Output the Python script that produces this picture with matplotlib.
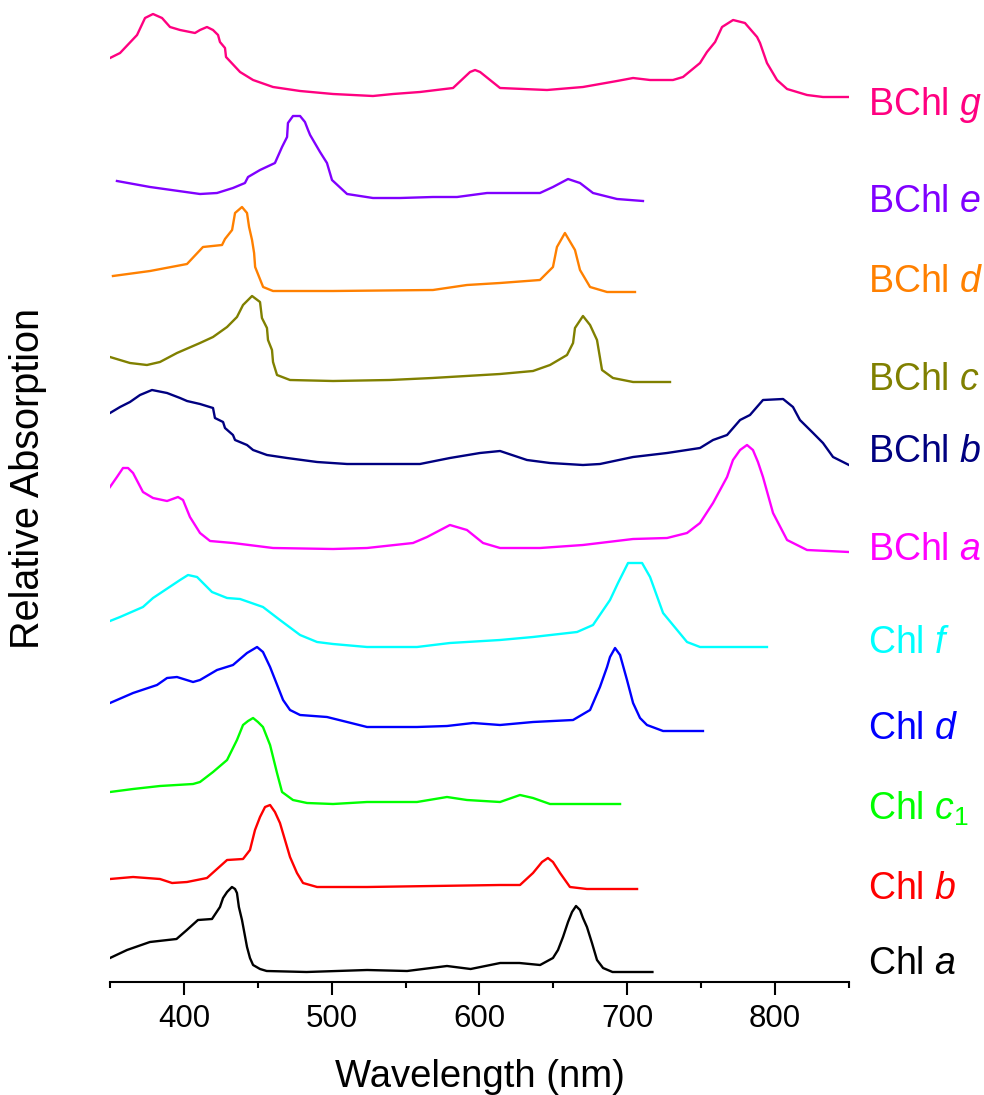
import matplotlib
matplotlib.use("Agg")
import matplotlib.pyplot as plt
from matplotlib.ticker import MultipleLocator

plt.rcParams['font.family'] = ['Liberation Sans', 'DejaVu Sans']
plt.rcParams['mathtext.fontset'] = 'custom'
plt.rcParams['mathtext.rm'] = 'Liberation Sans'
plt.rcParams['mathtext.it'] = 'Liberation Sans:italic'

# spectra: wavelength (nm) and relative absorption
chla_nm = [350, 361.5, 377, 395, 402, 409.5, 419, 424.4, 426.5, 429.2, 432.5, 434.6, 435.9, 437.2,
           439.3, 442.7, 444.7, 446.8, 451.5, 456, 483, 524, 551, 578, 594, 614, 627, 641, 649.7,
           653.1, 656.5, 659.9, 662.6, 665.3, 668, 670, 672.7, 676.1, 679.5, 683.6, 690, 717]
chla_abs = [0.14, 0.22, 0.30, 0.33, 0.42, 0.52, 0.53, 0.65, 0.74, 0.80, 0.85, 0.83, 0.79, 0.65,
            0.52, 0.25, 0.14, 0.07, 0.03, 0.01, 0, 0.02, 0.01, 0.06, 0.03, 0.09, 0.09, 0.07, 0.14,
            0.22, 0.35, 0.50, 0.60, 0.66, 0.62, 0.54, 0.45, 0.29, 0.12, 0.04, 0, 0]

chlb_nm = [350, 365.6, 383.8, 392, 402.1, 415.6, 429.2, 440, 444.7, 448.1, 451.5, 454.9, 458.3,
           461.6, 465, 468.4, 471.8, 476.5, 480.6, 490.1, 523.9, 568.5, 613.9, 627.4, 636.2,
           642.3, 646.3, 649.7, 654.5, 661.2, 672.7, 706.6]
chlb_abs = [0.10, 0.12, 0.10, 0.06, 0.07, 0.11, 0.29, 0.30, 0.39, 0.59, 0.72, 0.82, 0.84,
            0.77, 0.66, 0.49, 0.32, 0.16, 0.06, 0.02, 0.02, 0.03, 0.04, 0.04, 0.16,
            0.27, 0.31, 0.27, 0.16, 0.02, 0, 0]

chlc1_nm = [350, 365.6, 383.8, 406.2, 410.9, 419.7, 429.2, 435.9, 440, 443.4, 446.8, 450.1, 453.5,
            458.3, 463, 466.4, 473.8, 483.3, 500.9, 523.9, 557.7, 578, 591.5, 613.9, 627.4, 636.2,
            647.7, 695.1]
chlc1_abs = [0.12, 0.15, 0.18, 0.20, 0.22, 0.32, 0.44, 0.64, 0.79, 0.83, 0.86, 0.82, 0.77,
             0.59, 0.31, 0.12, 0.04, 0.01, 0, 0.02, 0.02, 0.07, 0.04, 0.02, 0.09, 0.06,
             0, 0]

chld_nm = [350, 365.6, 381.8, 388.6, 395.3, 406.2, 410.9, 422.4, 433.2, 442.7, 449.5, 453.5, 458.3,
           467.1, 471.8, 478.6, 496.8, 510.4, 523.9, 557.7, 578, 595.6, 613.9, 636.2, 663.3, 674.8,
           681.5, 686.3, 688.3, 691.7, 695.1, 699.8, 703.9, 708.6, 713.3, 724.2, 751.2]
chld_abs = [0.28, 0.38, 0.46, 0.53, 0.54, 0.49, 0.51, 0.61, 0.66, 0.78, 0.84, 0.79, 0.64,
            0.31, 0.21, 0.16, 0.14, 0.09, 0.04, 0.04, 0.05, 0.08, 0.06, 0.09, 0.11, 0.21,
            0.44, 0.64, 0.74, 0.83, 0.76, 0.51, 0.28, 0.13, 0.06, 0, 0]

chlf_nm = [350, 356.8, 372.3, 379.1, 397.4, 402.8, 408.9, 419, 429.2, 438, 453.5, 465, 478.6, 490.1,
           500.9, 523.9, 557.7, 580, 613.9, 636.2, 666, 676.8, 688.3, 693.7, 700.5, 710, 715.4,
           724.2, 730.9, 740.4, 749.2, 794.5]
chlf_abs = [0.26, 0.30, 0.40, 0.49, 0.67, 0.72, 0.70, 0.55, 0.49, 0.48, 0.40, 0.27, 0.12, 0.05,
            0.03, 0, 0, 0.04, 0.07, 0.10, 0.15, 0.22, 0.47, 0.64, 0.84, 0.84, 0.70,
            0.34, 0.22, 0.05, 0, 0]

bchla_nm = [350, 354.7, 358.8, 362.2, 365.6, 372.3, 379.1, 388.6, 396, 399.4, 404.1, 410.9, 417.7,
            433.2, 460.3, 500.9, 523.9, 555, 564.5, 580, 591.5, 602.4, 613.9, 640.9, 670, 703.9,
            726.9, 740.4, 749.2, 758, 767.5, 771.5, 776.3, 781, 785, 788.4, 791.8, 798.6, 808.1,
            821.6, 850]
bchla_abs = [0.65, 0.75, 0.84, 0.84, 0.79, 0.60, 0.54, 0.51, 0.55, 0.52, 0.35, 0.19, 0.11,
             0.09, 0.04, 0.03, 0.04, 0.09, 0.15, 0.27, 0.22, 0.09, 0.04, 0.04, 0.07, 0.13,
             0.14, 0.19, 0.29, 0.49, 0.75, 0.92, 1.02, 1.07, 1.02, 0.90, 0.75, 0.39, 0.12,
             0.02, 0]

bchlb_nm = [350, 356.8, 363.5, 370.3, 378.4, 388.6, 397.4, 402.1, 410.9, 419.7, 421, 426.5, 427.8,
            433.2, 434.6, 442.7, 446.8, 456.2, 469.8, 490.1, 510.4, 559.7, 580, 600.3, 613.9,
            632.1, 647.7, 670, 681.5, 703.9, 726.9, 749.2, 758, 767.5, 776.3, 783, 791.8, 805.4,
            812.1, 816.8, 825.7, 832.4, 839.2, 850]
bchlb_abs = [0.52, 0.58, 0.63, 0.70, 0.75, 0.72, 0.67, 0.64, 0.61, 0.57, 0.47, 0.43, 0.37,
             0.30, 0.25, 0.20, 0.15, 0.10, 0.07, 0.03, 0.01, 0.01, 0.07, 0.12, 0.14,
             0.05, 0.02, 0, 0.01, 0.08, 0.12, 0.17, 0.25, 0.30, 0.45, 0.50, 0.65, 0.66,
             0.58, 0.45, 0.32, 0.22, 0.08, 0]

bchlc_nm = [350, 363.5, 375, 383.8, 395.3, 410.9, 419.7, 429.2, 435.9, 440, 446.1, 451.5, 452.8,
            456.2, 456.9, 459.6, 460.3, 463, 471.8, 500.9, 539.4, 568, 613.9, 636.2, 647.7, 659.2,
            663.3, 664.6, 670, 674.8, 679.5, 682.9, 690.3, 703.9, 728.9]
bchlc_abs = [0.25, 0.19, 0.17, 0.20, 0.29, 0.39, 0.45, 0.55, 0.65, 0.77, 0.86, 0.80, 0.64,
             0.54, 0.42, 0.32, 0.20, 0.07, 0.02, 0.01, 0.02, 0.04, 0.08, 0.11, 0.17, 0.27,
             0.39, 0.54, 0.66, 0.57, 0.42, 0.12, 0.04, 0, 0]

bchld_nm = [352, 377.1, 402.1, 412.9, 425.8, 427.8, 432.6, 434.6, 439.3, 442.7, 444.1, 446.1, 447.5,
            448.2, 450.9, 453.6, 460.3, 500.9, 568.5, 591.5, 613.9, 640.9, 649.7, 652.4, 657.8,
            664.6, 668, 674.8, 686.3, 705.2]
bchld_abs = [0.16, 0.21, 0.28, 0.45, 0.47, 0.53, 0.62, 0.79, 0.85, 0.79, 0.65, 0.52, 0.39,
             0.25, 0.15, 0.05, 0.01, 0.01, 0.02, 0.07, 0.09, 0.12, 0.25, 0.45, 0.59,
             0.42, 0.22, 0.05, 0, 0]

bchle_nm = [354.7, 377.1, 410.9, 422.4, 433.2, 441.3, 443.4, 451.5, 461.6, 466.4, 469.8, 470.4, 473.8,
            478.6, 481.9, 484, 485.4, 492.1, 496.8, 500.2, 510.4, 527.9, 546.2, 568.5, 584.8, 605.1,
            613.9, 640.9, 649.7, 659.9, 668, 676.8, 693, 710.6]
bchle_abs = [0.20, 0.14, 0.07, 0.08, 0.13, 0.18, 0.24, 0.31, 0.38, 0.54, 0.64, 0.78, 0.85,
             0.85, 0.79, 0.71, 0.66, 0.49, 0.38, 0.21, 0.07, 0.03, 0.03, 0.04, 0.04, 0.08,
             0.08, 0.08, 0.14, 0.22, 0.18, 0.08, 0.02, 0]

bchlg_nm = [350, 356.8, 368.3, 373.7, 379.1, 385.2, 390.6, 397.4, 407.5, 410.9, 415.6, 419.7, 423.1,
            424.4, 427.8, 428.5, 438, 446.8, 460.3, 478.6, 500.9, 527.9, 541.5, 559.7, 582.1, 593.6,
            597, 600.4, 613.9, 645.7, 670, 693, 703.9, 715.4, 730.9, 737.7, 749.2, 753.9, 759.4,
            764.1, 771.6, 779.6, 787.8, 789.8, 794.5, 801.3, 808.1, 821.6, 832.4, 850]
bchlg_abs = [0.39, 0.44, 0.62, 0.79, 0.83, 0.79, 0.70, 0.67, 0.64, 0.67, 0.70, 0.67, 0.62,
             0.55, 0.49, 0.40, 0.25, 0.17, 0.10, 0.06, 0.03, 0.01, 0.03, 0.05, 0.09, 0.25,
             0.27, 0.25, 0.09, 0.07, 0.10, 0.16, 0.19, 0.17, 0.17, 0.20, 0.34, 0.45, 0.55,
             0.70, 0.77, 0.74, 0.60, 0.54, 0.34, 0.17, 0.08, 0.02, 0, 0]

names = ["Chl $\\mathit{a}$", "Chl $\\mathit{b}$", "Chl $\\mathit{c}_{\\mathit{1}}$", "Chl $\\mathit{d}$",
         "Chl $\\mathit{f}$", "BChl $\\mathit{a}$", "BChl $\\mathit{b}$", "BChl $\\mathit{c}$",
         "BChl $\\mathit{d}$", "BChl $\\mathit{e}$", "BChl $\\mathit{g}$"]
spectra = [(chla_nm, chla_abs), (chlb_nm, chlb_abs), (chlc1_nm, chlc1_abs), (chld_nm, chld_abs),
           (chlf_nm, chlf_abs), (bchla_nm, bchla_abs), (bchlb_nm, bchlb_abs), (bchlc_nm, bchlc_abs),
           (bchld_nm, bchld_abs), (bchle_nm, bchle_abs), (bchlg_nm, bchlg_abs)]

# vertical stacking offsets and label baselines
offsets = [0.10, 0.93, 1.78, 2.51, 3.35, 4.30, 5.17, 6.00, 6.90, 7.81, 8.85]
label_y = [0.08, 0.83, 1.62, 2.43, 3.29, 4.22, 5.20, 5.92, 6.90, 7.70, 8.67]
colors = ['#000000', '#FF0000', '#00FF00', '#0000FF', '#00FFFF', '#FF00FF',
          '#000080', '#808000', '#FF8000', '#8000FF', '#FF0080']

fig = plt.figure(figsize=(9.84, 10.95), dpi=100)
ax = fig.add_axes([110 / 984, 113 / 1095, 739 / 984, 982 / 1095])

for (nm, ab), off, ly, c, name in zip(spectra, offsets, label_y, colors, names):
    ax.plot(nm, [a + off for a in ab], color=c, lw=1.7, solid_joinstyle='round')
    ax.text(863, ly, name, color=c, fontsize=27, va='baseline', ha='left', clip_on=False)

ax.set_xlim(350, 850)
ax.set_ylim(0, 9.82)
ax.xaxis.set_major_locator(MultipleLocator(100))
ax.xaxis.set_minor_locator(MultipleLocator(50))
ax.tick_params(axis='x', which='major', length=9, width=1.5, direction='out', labelsize=22.5, pad=7)
ax.tick_params(axis='x', which='minor', length=4.5, width=1.5, direction='out')
ax.set_yticks([])
for s in ['top', 'right', 'left']:
    ax.spines[s].set_visible(False)
ax.spines['bottom'].set_linewidth(1.5)

fig.text(480 / 984, 8 / 1095, "Wavelength (nm)", fontsize=27.5, ha='center', va='baseline')
fig.text(28 / 984, 1 - 478 / 1095, "Relative Absorption", fontsize=28.5, ha='center', va='center',
         rotation=90)

fig.savefig("out.png", dpi=100)
